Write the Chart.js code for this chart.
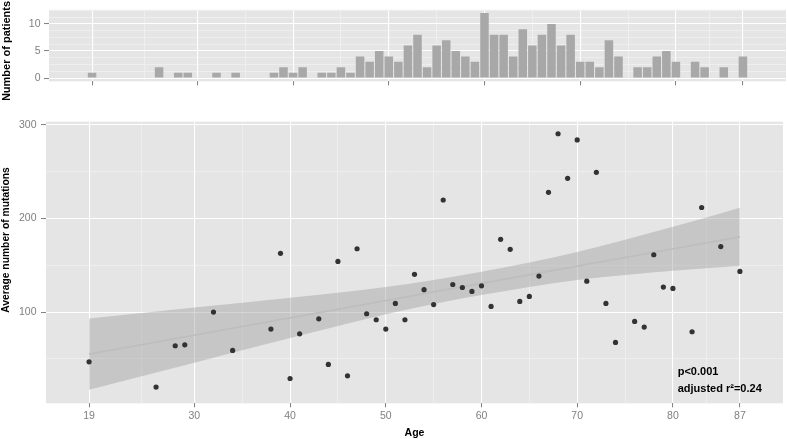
<!DOCTYPE html>
<html><head><meta charset="utf-8">
<script src="https://cdn.jsdelivr.net/npm/chart.js@4.4.1/dist/chart.umd.min.js"></script>
<style>
html,body{margin:0;padding:0;background:#fff;}
#wrap{position:relative;width:787px;height:439px;overflow:hidden;}
#top{position:absolute;left:0;top:0;}
#bot{position:absolute;left:0;top:100px;}
</style></head><body>
<div id="wrap"><canvas id="top" width="787" height="100"></canvas><canvas id="bot" width="787" height="339"></canvas></div>
<script>
// ---------- data ----------
const ages = [19,26,28,29,32,34,38,39,40,41,43,44,45,46,47,48,49,50,51,52,53,54,55,56,57,58,59,60,61,62,63,64,65,66,67,68,69,70,71,72,73,74,76,77,78,79,80,82,83,85,87];
const patientCounts = [1,2,1,1,1,1,1,2,1,2,1,1,2,1,4,3,5,4,3,6,8,2,6,7,5,4,3,12,8,8,4,9,6,8,10,6,8,3,3,2,7,4,2,2,4,5,3,3,2,2,4];
const avgMutations = [46.8,19.8,64,65,100,59,81.8,162.8,29,76.8,92.8,44,154.2,31.9,167.7,98.2,91.8,81.8,109.3,91.8,140.4,124,108,219.8,129.5,126.3,122.1,128.1,106,177.8,167.1,111.4,116.7,138.5,228,290.6,243,284,133,249.4,109.3,67.6,90,84,161.3,126.7,125.3,79,211.8,170,143.5];
const bandAges = [19,30,40,50,55,60,65,70,80,87];
const fitLine  = [55.1,75.4,93.8,112.3,121.5,130.7,139.9,149.2,167.6,180.5];
const bandUpper = [93.1,104.9,115.3,126.8,134.3,143.2,153.0,164.2,191.1,211.5];
const bandLower = [17.1,45.9,72.3,97.8,108.7,118.2,126.8,134.2,144.1,149.5];
const xMajorTicks = [19,30,40,50,60,70,80,87];
const xMinorTicks = [24.5,35,45,55,65,75,83.5];
const countMajorTicks = [0,5,10];
const countMinorTicks = [1.25,2.5,3.75,6.25,7.5,8.75,11.25,12.5];
const mutMajorTicks = [100,200,300];
const mutMinorTicks = [50,150,250];
const xTitle = 'Age';
const topYTitle = 'Number of patients';
const botYTitle = 'Average number of mutations';
const annotationLines = ['p<0.001', 'adjusted r\u00B2=0.24'];
const annotationAge = 80.5;
const annotationValues = [36, 18];

// ---------- helpers ----------
Chart.defaults.font.family = '"Liberation Sans", Arial, Helvetica, sans-serif';
const TICK_GREY = '#7F7F7F';
function near(arr, v){ return arr.some(m => Math.abs(m - v) < 1e-6); }
function axis(min, max, major, minor, o){
  return {
    type: 'linear', min: min, max: max, offset: false,
    afterBuildTicks: s => { s.ticks = major.concat(minor).sort((a,b)=>a-b).map(v => ({value: v})); },
    afterFit: s => { if (o.horizontal) s.height = o.size; else s.width = o.size; },
    border: {display: false},
    grid: {
      offset: false, drawTicks: true, tickLength: o.tickLength,
      color: c => (c.tick && near(major, c.tick.value)) ? '#FFFFFF' : '#F3F3F3',
      lineWidth: c => (c.tick && near(major, c.tick.value)) ? 1.1 : 0.6,
      tickColor: c => (c.tick && near(major, c.tick.value)) ? TICK_GREY : 'rgba(0,0,0,0)',
      tickWidth: 1
    },
    ticks: {
      autoSkip: false, maxRotation: 0, minRotation: 0, padding: o.padding,
      color: TICK_GREY, font: {size: 10.5},
      callback: v => (o.labels && near(major, v)) ? String(v) : ''
    }
  };
}
const panelBg = { id: 'panelBg', beforeDraw(chart){
  const {ctx, chartArea: a} = chart; ctx.save(); ctx.fillStyle = '#E5E5E5';
  ctx.fillRect(a.left, a.top, a.right - a.left, a.bottom - a.top); ctx.restore(); } };
function vText(ctx, text, x, y, size){
  ctx.save(); ctx.translate(x, y); ctx.rotate(-Math.PI/2);
  ctx.font = 'bold ' + size + 'px "Liberation Sans", Arial, sans-serif';
  ctx.fillStyle = '#000'; ctx.textAlign = 'center'; ctx.textBaseline = 'middle';
  ctx.fillText(text, 0, 0); ctx.restore();
}

// ---------- top histogram ----------
new Chart(document.getElementById('top'), {
  type: 'bar',
  data: { datasets: [{
    data: ages.map((a, i) => ({x: a, y: patientCounts[i]})),
    backgroundColor: '#A8A8A8', borderWidth: 0,
    barPercentage: 0.89, categoryPercentage: 1.0
  }]},
  options: {
    responsive: false, animation: false, devicePixelRatio: 1,
    layout: {padding: {left: 0, right: 1, top: 8.3, bottom: 0}},
    plugins: {legend: {display: false}, tooltip: {enabled: false}},
    scales: {
      x: axis(14.5, 91.5, xMajorTicks, xMinorTicks, {horizontal: true, size: 18.7, tickLength: 4, padding: 2, labels: false}),
      y: axis(-0.6, 12.6, countMajorTicks, countMinorTicks, {horizontal: false, size: 49, tickLength: 5, padding: 3.5, labels: true})
    }
  },
  plugins: [panelBg, { id: 'topText', afterDraw(chart){ vText(chart.ctx, topYTitle, 6.5, 51, 11); } }]
});

// ---------- bottom scatter ----------
new Chart(document.getElementById('bot'), {
  type: 'line',
  data: { datasets: [
    { data: bandAges.map((a, i) => ({x: a, y: bandUpper[i]})), borderWidth: 0, borderColor: 'rgba(0,0,0,0)',
      backgroundColor: 'rgba(153,153,153,0.4)', fill: '+1', pointRadius: 0, cubicInterpolationMode: 'monotone', order: 3 },
    { data: bandAges.map((a, i) => ({x: a, y: bandLower[i]})), borderWidth: 0, borderColor: 'rgba(0,0,0,0)',
      fill: false, pointRadius: 0, cubicInterpolationMode: 'monotone', order: 2 },
    { data: bandAges.map((a, i) => ({x: a, y: fitLine[i]})), borderWidth: 1.8, borderColor: '#BEBEBE',
      fill: false, pointRadius: 0, order: 1 },
    { data: ages.map((a, i) => ({x: a, y: avgMutations[i]})), showLine: false,
      pointRadius: 2.6, pointBackgroundColor: '#333333', pointBorderWidth: 0, order: 0 }
  ]},
  options: {
    responsive: false, animation: false, devicePixelRatio: 1,
    layout: {padding: {left: 0, right: 1, top: 21.7, bottom: 0}},
    plugins: {legend: {display: false}, tooltip: {enabled: false}},
    scales: {
      x: axis(14.5, 91.5, xMajorTicks, xMinorTicks, {horizontal: true, size: 35.7, tickLength: 4, padding: 2.5, labels: true}),
      y: axis(2.5, 303.5, mutMajorTicks, mutMinorTicks, {horizontal: false, size: 46, tickLength: 5, padding: 4.5, labels: true})
    }
  },
  plugins: [panelBg, { id: 'botText', afterDraw(chart){
    const ctx = chart.ctx, a = chart.chartArea, sx = chart.scales.x, sy = chart.scales.y;
    vText(ctx, botYTitle, 6.5, 140, 10.3);
    ctx.save();
    ctx.font = 'bold 10.5px "Liberation Sans", Arial, sans-serif';
    ctx.fillStyle = '#000'; ctx.textAlign = 'center'; ctx.textBaseline = 'middle';
    ctx.fillText(xTitle, (a.left + a.right) / 2, 333.3);
    ctx.font = 'bold 11px "Liberation Sans", Arial, sans-serif';
    ctx.textAlign = 'left';
    annotationLines.forEach((t, i) => ctx.fillText(t, sx.getPixelForValue(annotationAge), sy.getPixelForValue(annotationValues[i])));
    ctx.restore();
  } }]
});
</script>
</body></html>
